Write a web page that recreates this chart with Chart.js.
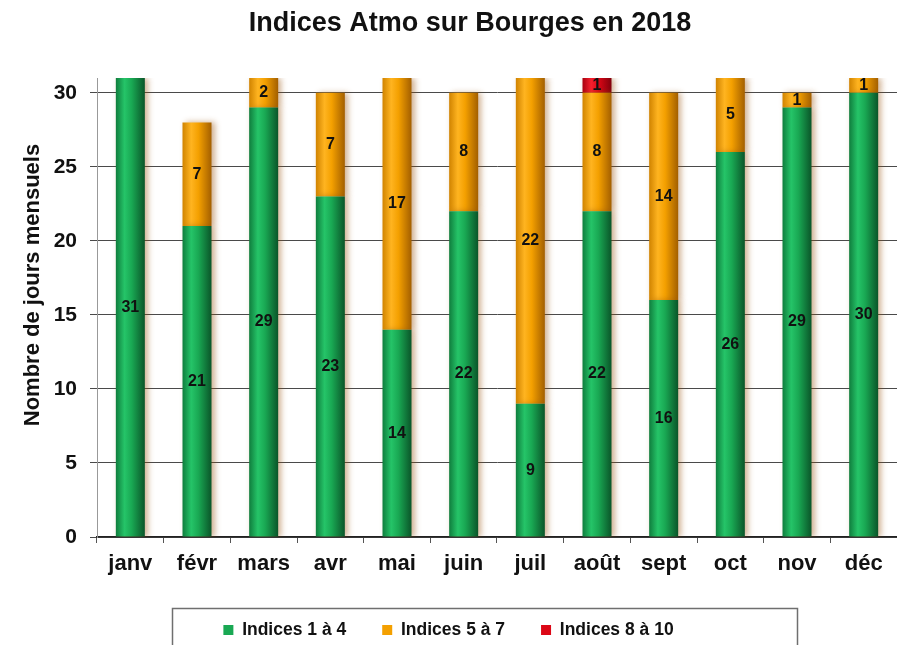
<!DOCTYPE html>
<html lang="fr">
<head>
<meta charset="utf-8">
<title>Indices Atmo sur Bourges en 2018</title>
<script src="https://cdn.jsdelivr.net/npm/chart.js@4.4.1/dist/chart.umd.min.js"></script>
<style>
  html, body { margin: 0; padding: 0; background: #fff; }
  #chart { display: block; }
</style>
</head>
<body>
<canvas id="chart" width="897" height="645"></canvas>
<script>
const mois = ["janv", "févr", "mars", "avr", "mai", "juin", "juil", "août", "sept", "oct", "nov", "déc"];
const indices1a4 = [31, 21, 29, 23, 14, 22, 9, 22, 16, 26, 29, 30];
const indices5a7 = [0, 7, 2, 7, 17, 8, 22, 8, 14, 5, 1, 1];
const indices8a10 = [0, 0, 0, 0, 0, 0, 0, 1, 0, 0, 0, 0];
const graduations = [0, 5, 10, 15, 20, 25, 30];

const POLICE = "'Liberation Sans', Arial, sans-serif";
const LARGEUR_BARRE = 0.435;

// dark edge, highlight, body, shaded edge
const teintes = [
  ["#0f7d3d", "#25c468", "#19a853", "#0a5529"],
  ["#d08300", "#ffb420", "#f4a000", "#a35f00"],
  ["#a8000f", "#f5202e", "#dc0716", "#80000c"]
];

// horizontal gradient so each bar looks like a cylinder
function cylindre(c, t) {
  const chart = c.chart;
  const x = chart.scales.x;
  if (c.dataIndex === undefined || !x || !chart.chartArea) return t[2];
  const cx = x.getPixelForValue(c.dataIndex);
  const w = (x.width / mois.length) * LARGEUR_BARRE;
  const g = chart.ctx.createLinearGradient(cx - w / 2, 0, cx + w / 2, 0);
  g.addColorStop(0, t[0]);
  g.addColorStop(0.3, t[1]);
  g.addColorStop(0.55, t[2]);
  g.addColorStop(1, t[3]);
  return g;
}

const ombre = {
  id: "ombre",
  beforeDatasetsDraw(chart) {
    const ctx = chart.ctx;
    ctx.save();
    ctx.shadowColor = "rgba(150, 80, 10, 0.45)";
    ctx.shadowBlur = 6;
    ctx.shadowOffsetX = 3;
  },
  afterDatasetsDraw(chart) {
    const ctx = chart.ctx;
    ctx.restore();
    // value written in the middle of each segment
    ctx.save();
    ctx.font = "bold 16px " + POLICE;
    ctx.fillStyle = "#111";
    ctx.textAlign = "center";
    ctx.textBaseline = "middle";
    chart.data.datasets.forEach((ds, i) => {
      chart.getDatasetMeta(i).data.forEach((bar, j) => {
        const v = ds.data[j];
        if (!v) return;
        ctx.fillText(String(v), bar.x, (bar.y + bar.base) / 2);
      });
    });
    ctx.restore();
  }
};

const textes = {
  id: "textes",
  afterDraw(chart) {
    const ctx = chart.ctx;
    ctx.save();
    ctx.fillStyle = "#111";
    ctx.textAlign = "center";
    ctx.textBaseline = "middle";
    ctx.font = "bold 27px " + POLICE;
    ctx.fillText("Indices Atmo sur Bourges en 2018", 470, 24);

    ctx.translate(33, 285);
    ctx.rotate(-Math.PI / 2);
    ctx.font = "bold 22px " + POLICE;
    ctx.fillText("Nombre de jours mensuels", 0, 0);
    ctx.restore();

    // frame around the legend
    ctx.save();
    ctx.strokeStyle = "#6f6f6f";
    ctx.lineWidth = 1.5;
    ctx.strokeRect(172.5, 608.5, 625, 60);
    ctx.restore();
  }
};

new Chart(document.getElementById("chart"), {
  type: "bar",
  data: {
    labels: mois,
    datasets: [
      { label: "Indices 1 à 4", data: indices1a4, backgroundColor: c => cylindre(c, teintes[0]) },
      { label: "Indices 5 à 7", data: indices5a7, backgroundColor: c => cylindre(c, teintes[1]) },
      { label: "Indices 8 à 10", data: indices8a10, backgroundColor: c => cylindre(c, teintes[2]) }
    ]
  },
  options: {
    responsive: false,
    animation: false,
    layout: { padding: { top: 78, left: 0, right: 0, bottom: -3.75 } },
    datasets: {
      bar: { categoryPercentage: 1, barPercentage: LARGEUR_BARRE, borderWidth: 0 }
    },
    scales: {
      x: {
        stacked: true,
        afterFit: s => { s.height = 48.25; },
        grid: { drawOnChartArea: false, offset: true, tickLength: 6, color: "#555" },
        border: { color: "#222", width: 1.5 },
        ticks: { color: "#111", padding: 8, font: { family: POLICE, size: 22, weight: "bold" } }
      },
      y: {
        stacked: true,
        min: 0,
        max: 31,
        afterFit: s => { s.width = 97; },
        afterBuildTicks: s => { s.ticks = graduations.map(v => ({ value: v })); },
        grid: { color: "#4a4a4a", tickLength: 7 },
        border: { color: "#999" },
        ticks: { color: "#111", padding: 13, font: { family: POLICE, size: 21, weight: "bold" } }
      }
    },
    plugins: {
      title: { display: false },
      tooltip: { enabled: false },
      legend: {
        position: "bottom",
        labels: {
          color: "#111",
          boxWidth: 10,
          boxHeight: 10,
          padding: 36,
          font: { family: POLICE, size: 17.5, weight: "bold" },
          generateLabels: chart => Chart.defaults.plugins.legend.labels.generateLabels(chart)
            .map((l, i) => ({ ...l, fillStyle: teintes[i][2], lineWidth: 0 }))
        }
      }
    }
  },
  plugins: [ombre, textes]
});
</script>
</body>
</html>
